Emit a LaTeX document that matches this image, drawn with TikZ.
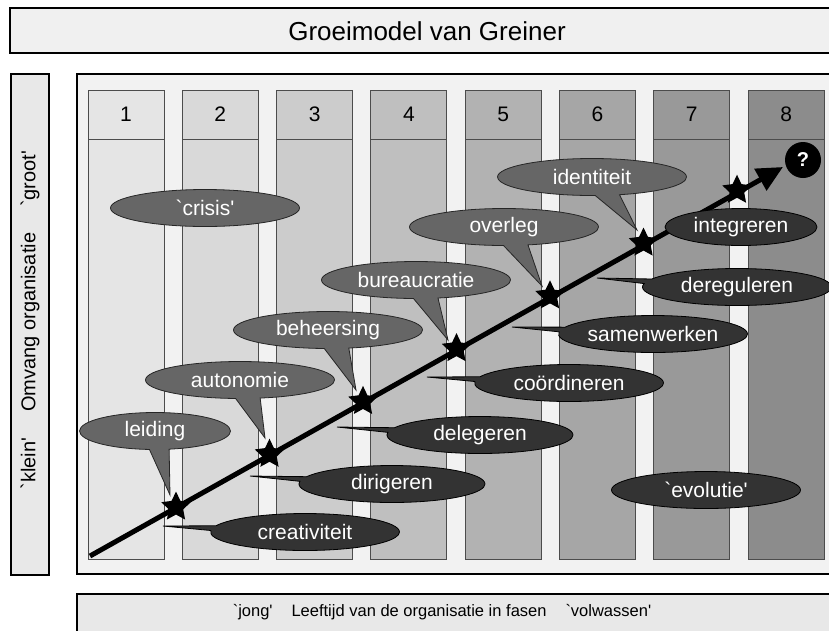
\documentclass[tikz,border=0pt]{standalone}
\usepackage{fontspec}
\setmainfont{Liberation Sans}[Ligatures=TeXOff]
\usetikzlibrary{shapes.geometric,shapes.callouts,arrows.meta}

\tikzset{
  box/.style={draw=black, line width=1.5pt},
  kolom/.style={draw=black!70, line width=1pt},
  bol/.style={draw=black!85, line width=0.8pt, text=white, inner sep=0pt,
    minimum width=189pt, minimum height=37pt, font=\fontsize{21}{24}\selectfont},
  licht/.style={ellipse callout, bol, fill=black!60},
  donker/.style={ellipse callout, bol, fill=black!80, draw=black},
  ster/.style={star, star points=5, star point ratio=2.05, fill=black, inner sep=0pt, minimum size=31pt},
}

\begin{document}
\begin{tikzpicture}[x=1pt,y=-1pt]
  \useasboundingbox (0,0) rectangle (829,630);
  \clip (0,0) rectangle (829,630);

  % kaders
  \draw[box, fill=black!6] (10,8) rectangle (845,53);
    \node[font=\fontsize{26}{30}\selectfont] (titel) at (427,31) {Groeimodel van Greiner};
  \draw[box, fill=black!9] (11,74) rectangle (49,575);
    \node[rotate=90, font=\fontsize{20}{23}\selectfont] (omvang) at (30,320)
      {`klein'\hspace{1.3em}Omvang organisatie\hspace{1.3em}`groot'};
  \draw[box, fill=black!5] (77,74) rectangle (845,574);
  \draw[box, fill=black!9] (77,594) rectangle (845,640);
    \node[font=\fontsize{16.5}{20}\selectfont] (leeftijd) at (442,612)
      {`jong'\hspace{1.15em}Leeftijd van de organisatie in fasen\hspace{1.15em}`volwassen'};

  % fasen
  \foreach \i [evaluate=\i as \x using 88+94.3*(\i-1), evaluate=\i as \g using 5+5*\i] in {1,...,8}{
    \draw[kolom, fill=black!\g] (\x,90) rectangle ++(76,469);
    \draw[kolom] (\x,139) -- ++(76,0);
    \node[font=\fontsize{21}{24}\selectfont] (f\i) at ({\x+38},114) {\i};
  }

  % groeilijn
  \coordinate (begin) at (90,556);
  \coordinate (eind) at (783,167);
  \draw[line width=5pt, -{Triangle[length=26pt,width=24pt]}] (begin) -- (eind);

  % revolutie
  \coordinate (p1) at (170,495);
  \coordinate (p2) at (265,438);
  \coordinate (p3) at (356,390);
  \coordinate (p4) at (448,340);
  \coordinate (p5) at (542,286);
  \coordinate (p6) at (637,230);
  \node[licht, minimum width=151pt, callout absolute pointer={(p1)}] (leiding) at (155,431) {leiding};
  \node[licht, callout absolute pointer={(p2)}] (autonomie) at (240,380) {autonomie};
  \node[licht, callout absolute pointer={(p3)}] (beheersing) at (328,330) {beheersing};
  \node[licht, callout absolute pointer={(p4)}] (bureaucratie) at (416,280) {bureaucratie};
  \node[licht, callout absolute pointer={(p5)}] (overleg) at (504,227) {overleg};
  \node[licht, callout absolute pointer={(p6)}] (identiteit) at (592,177) {identiteit};
  \node[ellipse, bol, fill=black!60] (crisis) at (205,208) {`crisis'};

  % evolutie
  \coordinate (q1) at (163,526);
  \coordinate (q2) at (250,476);
  \coordinate (q3) at (337,427);
  \coordinate (q4) at (427,377);
  \coordinate (q5) at (512,327);
  \coordinate (q6) at (597,278);
  \node[donker, callout absolute pointer={(q1)}] (creativiteit) at (305,532) {creativiteit};
  \node[donker, minimum width=186pt, callout absolute pointer={(q2)}] (dirigeren) at (392,484) {dirigeren};
  \node[donker, minimum width=186pt, callout absolute pointer={(q3)}] (delegeren) at (480,435) {delegeren};
  \node[donker, callout absolute pointer={(q4)}] (coordineren) at (569,383) {coördineren};
  \node[donker, callout absolute pointer={(q5)}] (samenwerken) at (653,334) {samenwerken};
  \node[donker, callout absolute pointer={(q6)}] (dereguleren) at (737,287) {dereguleren};
  \node[ellipse, bol, fill=black!80, draw=black, minimum width=152pt] (integreren) at (741,227) {integreren};
  \node[ellipse, bol, fill=black!80, draw=black] (evolutie) at (706,490) {`evolutie'};

  % crises
  \foreach \k in {1,...,7}
    \node[ster] (s\k) at ({176+93.5*(\k-1)},{507-52.8*(\k-1)}) {};
  \node[circle, fill=black, minimum size=36pt, inner sep=0pt, text=white,
    font=\bfseries\fontsize{20}{20}\selectfont] (vraag) at (803,160) {?};
\end{tikzpicture}
\end{document}
